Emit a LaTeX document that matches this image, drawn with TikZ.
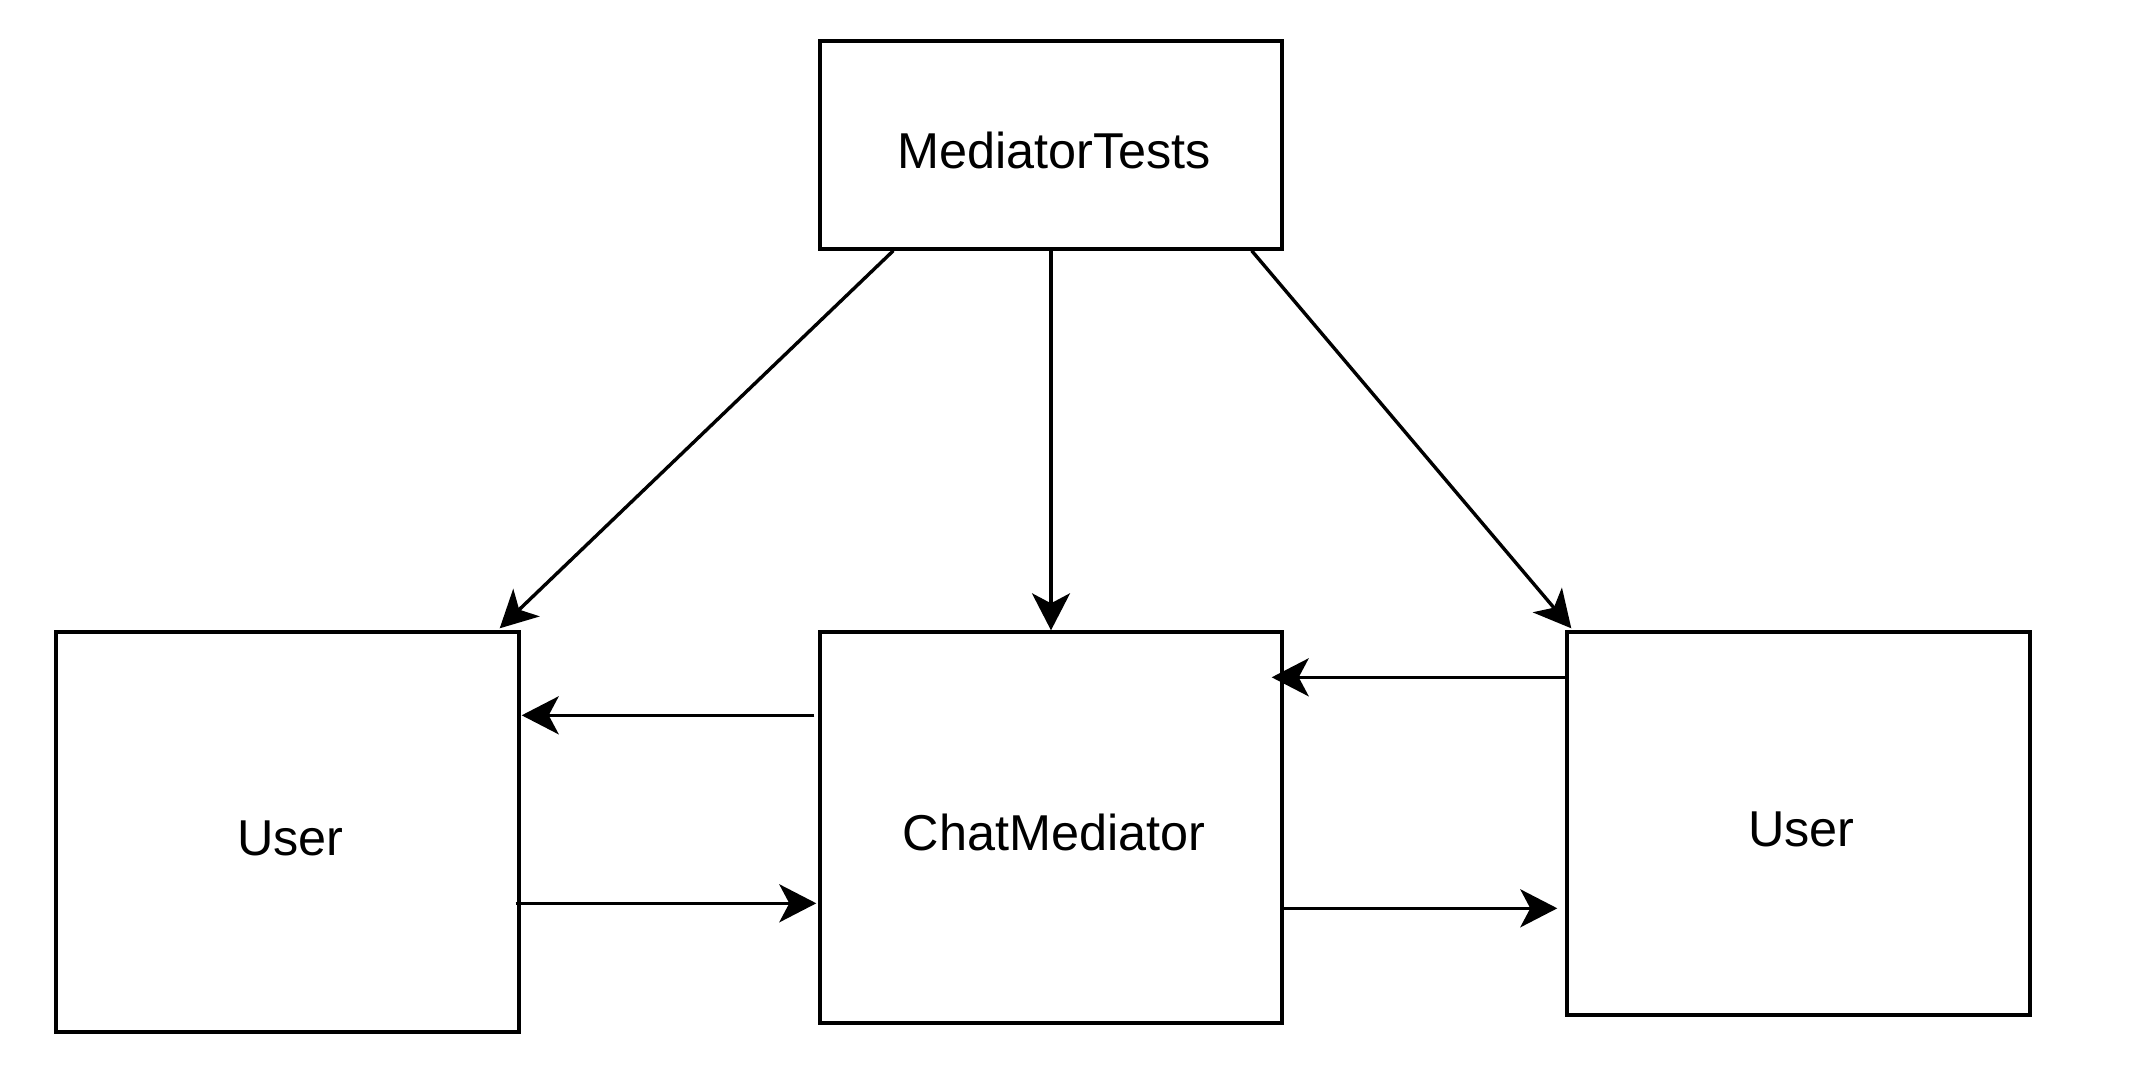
\documentclass[tikz,border=0pt]{standalone}
\usepackage{fontspec}
\setmainfont{Liberation Sans}
\usetikzlibrary{arrows.meta,calc}
\begin{document}
\begin{tikzpicture}[x=0.5pt,y=-0.5pt,
  box/.style={draw=black, line width=1.7pt, fill=white, rectangle, inner sep=0pt,
    font=\fontsize{25.2pt}{30pt}\selectfont, text height=23pt, text depth=0pt},
  conn/.style={draw=black, line width=1.7pt,
    -{Stealth[length=18.5pt,width=19pt,inset=5pt]}}]
\useasboundingbox[fill=white] (0,0) rectangle (2144,1084);
\node[box, minimum width=231pt, minimum height=104pt] (mt) at (1051,145) {\hspace*{3pt}MediatorTests};
\node[box, minimum width=231.5pt, minimum height=200pt] (lu) at (287.5,832) {\hspace*{3pt}User};
\node[box, minimum width=231pt, minimum height=195.5pt] (cm) at (1051,827.5) {\hspace*{3pt}ChatMediator};
\node[box, minimum width=231.5pt, minimum height=191.5pt] (ru) at (1798.5,823.5) {\hspace*{3pt}User};
% from MediatorTests
\draw[conn] ($(mt.south west)+(75,0)$) -- ($(lu.north east)+(-21,-2)$);
\draw[conn] (mt.south) -- (cm.north);
\draw[conn] ($(mt.south east)+(-32,0)$) -- ($(ru.north west)+(6,-2)$);
% between User (left) and ChatMediator
\draw[conn] ($(cm.north west)+(-4,85)$) -- ($(lu.north east)+(1,85)$);
\draw[conn] ($(lu.north east)+(-5,273)$) -- ($(cm.north west)+(-2,273)$);
% between ChatMediator and User (right)
\draw[conn] ($(ru.north west)+(0,47)$) -- ($(cm.north east)+(-12,47)$);
\draw[conn] ($(cm.north east)+(0,278)$) -- ($(ru.north west)+(-8,278)$);
\end{tikzpicture}
\end{document}
